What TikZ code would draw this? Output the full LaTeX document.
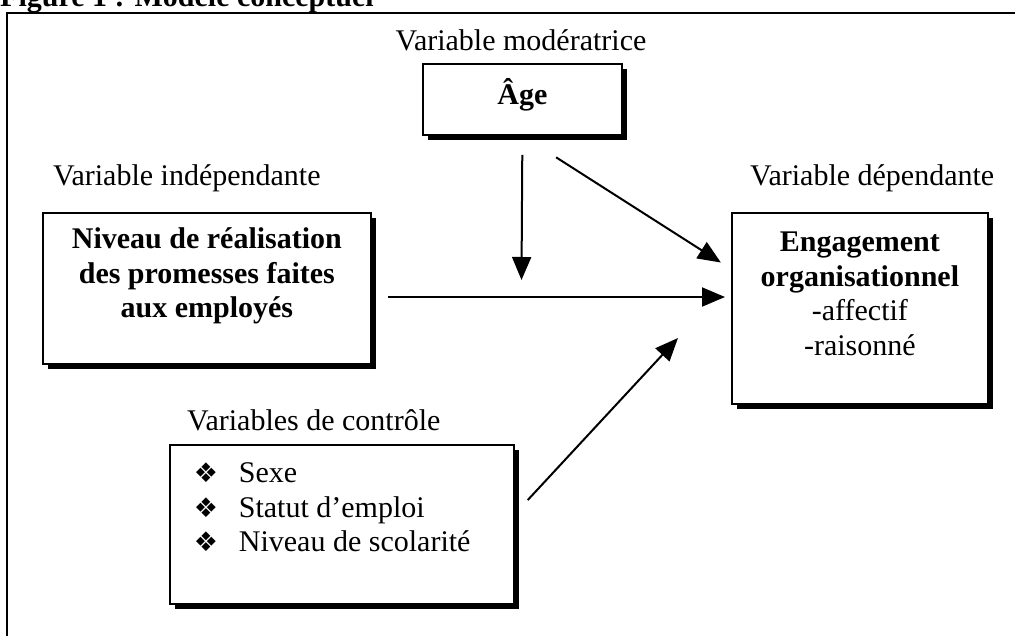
\documentclass[tikz,border=0pt]{standalone}
\usepackage{fontspec}
\setmainfont{Liberation Serif}
\newfontfamily\symfont{DejaVu Sans}
\usetikzlibrary{arrows.meta,shadows}
\newcommand\vbcontent[4]{\begin{minipage}[t][#2][t]{#1}\centering\vspace*{#3}#4\end{minipage}}
\newcommand\vbitem{\hspace*{24pt}\makebox[45pt][l]{\raisebox{0pt}{\symfont\fontsize{27}{27}\selectfont ❖}}}
\begin{document}
\begin{tikzpicture}[x=1pt,y=-1pt,
  txt/.style={inner sep=0pt, font=\fontsize{30}{34.5}\selectfont},
  lbl/.style={txt, anchor=base west},
  vbox/.style={txt, draw, line width=1.8pt, anchor=north west, fill=white,
    drop shadow={shadow xshift=5pt, shadow yshift=-5pt, fill=black, opacity=1}},
  conn/.style={line width=2pt, -{Triangle[length=23pt,width=19pt]}},
]
\useasboundingbox (0,0) rectangle (1015,635);
\clip (0,0) rectangle (1015,635);
% title (cut off at the top) and frame
\node[lbl, font=\bfseries\fontsize{30}{34.5}\selectfont] (title) at (0,6) {Figure 1 : Modèle conceptuel};
\draw[line width=2pt] (7,640) -- (7,13) -- (1020,13);
% labels
\node[txt, anchor=base] (lmod) at (521,50) {Variable modératrice};
\node[lbl] (lind) at (53,185) {Variable indépendante};
\node[lbl] (ldep) at (750,185) {Variable dépendante};
\node[lbl] (lctl) at (187,430) {Variables de contrôle};
% boxes
\node[vbox] (age) at (422,63) {\vbcontent{199pt}{71pt}{15pt}{\rule{0pt}{22pt}\textbf{Âge}}};
\node[vbox] (niveau) at (42,212) {\vbcontent{328pt}{151pt}{14pt}{\rule{0pt}{22pt}\textbf{Niveau de réalisation\\des promesses faites\\aux employés}}};
\node[vbox] (engagement) at (731,212) {\vbcontent{256pt}{191pt}{17pt}{\rule{0pt}{22pt}\textbf{Engagement\\organisationnel}\\-affectif\\-raisonné}};
\node[vbox] (control) at (169,444) {\begin{minipage}[t][159pt][t]{344pt}\raggedright\vspace*{16pt}\rule{0pt}{22pt}\vbitem Sexe\\\vbitem Statut d’emploi\\\vbitem Niveau de scolarité\end{minipage}};
% connectors
\coordinate (hy) at (0,297);
\coordinate (vend) at (521.5,280);
\coordinate (ctip) at (678,338);
\draw[conn, shorten <=16pt, shorten >=6pt] (niveau.east |- hy) -- (engagement.west |- hy);
\draw[conn, shorten <=19pt] (age.south) -- (vend);
\draw[conn, shorten <=40pt, shorten >=12pt] (age.south) -- ([yshift=-57pt]engagement.north west);
\draw[conn, shorten <=19pt] ([yshift=-70pt]control.north east) -- (ctip);
\end{tikzpicture}
\end{document}
